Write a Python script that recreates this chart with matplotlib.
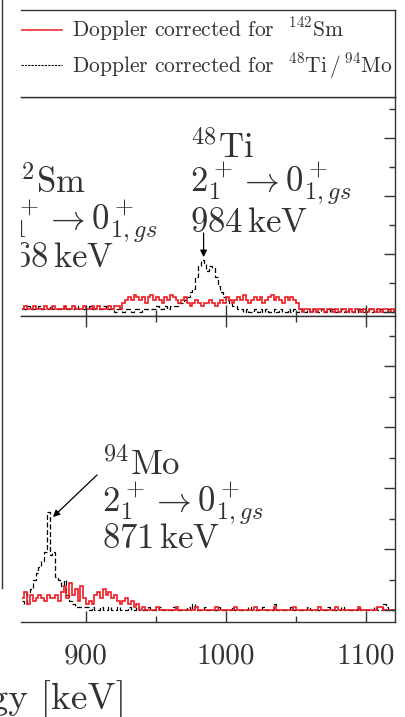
import numpy as np
import matplotlib
matplotlib.use('Agg')
import matplotlib.pyplot as plt
from matplotlib.ticker import MultipleLocator, NullFormatter
from matplotlib.lines import Line2D

plt.rcParams['font.family'] = 'cmr10'
plt.rcParams['mathtext.fontset'] = 'cm'
plt.rcParams['axes.unicode_minus'] = False

# 2 keV bins, 854 - 1122 keV
edges = np.arange(854, 1123, 2)

# upper panel (48Ti gate)
top_red = ([1, 2, 1, 1, 2, 1, 1, 1, 2, 1, 1, 2, 1, 1, 1, 2, 1, 1, 2, 1,
            1, 1, 2, 1, 1, 2, 1, 2, 1, 1, 1, 2, 1, 2, 2, 1]
           + [3, 4, 5, 4, 6, 5, 4, 5, 3, 5, 6, 4, 5, 4, 3, 5, 4, 6, 5, 4, 3, 4, 5]
           + [3, 2, 3, 4, 3, 2, 3, 3, 4, 3, 2, 3, 4, 3]
           + [5, 4, 3, 4, 5, 4, 6, 4, 3, 4, 5, 4, 5, 3, 4, 5, 6, 4, 5, 4,
              3, 5, 4, 5, 4, 3]
           + [1, 0, 1, 1, 0, 1, 0, 1, 1, 0, 1, 1, 0, 1, 0, 1, 1, 0, 1, 0,
              1, 1, 0, 1, 0, 1, 1, 0, 1, 0, 1, 1, 0, 1, 0])
top_black = ([1, 1, 2, 1, 1, 1, 2, 1, 1, 1, 2, 1, 1, 1, 1, 2, 1, 1, 1, 2,
              1, 1, 1, 1, 2, 1, 1, 1, 1, 2, 1, 1, 1, 0, 1, 1, 0, 1, 1, 0,
              1, 1, 0, 1, 1, 1]
             + [1, 1, 2, 1, 1, 2, 1, 2, 2, 2, 3]
             + [3, 4, 5, 7, 8, 12, 16, 18, 17, 14, 16, 15, 12, 9, 7, 5, 4, 3, 2, 2, 1]
             + [1, 0, 1, 0, 0, 1, 0, 1, 0, 1, 0, 0, 1, 0, 1, 0, 0, 1, 0, 1,
                0, 1, 0, 0, 1, 0, 1, 0, 0, 1, 0, 1, 0, 1, 0, 0, 1, 0, 1, 0,
                0, 1, 0, 1, 0, 0, 1, 0, 1, 0, 1, 0, 0, 1, 0, 1])

# lower panel (94Mo gate)
bot_black = ([3, 2, 6, 7, 10, 12, 14, 16, 19, 32, 18, 19, 11, 10, 8, 10, 5, 3, 2, 1,
              1, 1, 1]
             + [1, 0, 1, 0, 0, 1, 0, 0, 1, 0, 0, 1, 0, 0, 0, 1, 0, 0, 1, 0,
                0, 0, 1, 0, 0, 0, 1, 0, 0, 0, 0, 1, 0, 0, 0, 0, 1, 0, 2, 0,
                0, 0, 1, 0, 0, 0, 0, 1, 0, 0, 0, 0, 1, 0, 0, 0, 0, 0, 1, 0,
                0, 0, 0, 1, 0, 0, 0, 2, 0, 0, 0, 0, 0, 1, 0, 0, 0, 0, 0, 1,
                0, 0, 0, 0, 0, 0, 1, 0, 0, 0, 0, 1, 0, 0, 0, 0, 0, 1, 0, 0,
                0, 0, 0, 1, 0, 0, 2, 1, 0, 0, 0])
bot_red = ([4, 6, 2, 5, 3, 4, 5, 4, 3, 5, 4, 4, 5, 3, 6, 8, 4, 9, 5, 7, 3, 8, 4]
           + [2, 3, 2, 5, 6, 4, 7, 5, 6, 4, 5, 3, 2, 3, 4, 2, 3, 1, 2]
           + [0, 1, 0, 0, 0, 0, 1, 0, 0, 0, 0, 0, 0, 1, 0, 0, 0, 0, 0, 0,
              1, 0, 0, 0, 0, 0, 0, 1, 0, 0, 0, 0, 0, 0, 1, 0, 0, 0, 0, 0,
              0, 1, 0, 0, 0, 0, 0, 0, 1, 0, 0, 0, 0, 0, 0, 1, 0, 0, 0, 0,
              0, 0, 0, 0, 1, 0, 0, 0, 0, 0, 1, 0, 0, 0, 0, 0, 0, 0, 1, 0,
              0, 0, 0, 0, 0, 1, 1, 0, 0, 0, 0, 0])

RED = '#ee1c25'
INK = '#333333'
W, H = 405, 717

fig = plt.figure(figsize=(W / 100, H / 100), dpi=100)


def box(x0, y0, x1, y1):
    return [x0 / W, 1 - y1 / H, (x1 - x0) / W, (y1 - y0) / H]


ax_top = fig.add_axes(box(21, 97, 395, 316))
ax_bot = fig.add_axes(box(21, 316, 395, 622))
ax_leg = fig.add_axes(box(21, 10, 395, 97))

for ax in (ax_top, ax_bot):
    ax.set_xlim(853.6, 1120.7)
    ax.spines['left'].set_visible(False)
    for s in ('top', 'right', 'bottom'):
        ax.spines[s].set_color(INK)
        ax.spines[s].set_linewidth(1.0)
    ax.xaxis.set_major_locator(MultipleLocator(100))
    ax.xaxis.set_minor_locator(MultipleLocator(50))
    ax.yaxis.set_major_locator(MultipleLocator(20))
    ax.yaxis.set_minor_locator(MultipleLocator(10))
    ax.yaxis.set_major_formatter(NullFormatter())
    ax.tick_params(which='both', direction='in', color=INK, width=1,
                   left=False, right=True, labelleft=False, labelright=False)
    ax.tick_params(which='major', length=8)
    ax.tick_params(which='minor', length=4.3)

ax_top.set_ylim(-1.4, 74.1)
ax_bot.set_ylim(-3.9, 96.4)
ax_top.tick_params(which='both', top=False, bottom=True, labelbottom=False)
ax_bot.tick_params(which='both', top=True, bottom=True)
ax_bot.tick_params(axis='x', labelsize=21, labelcolor=INK, pad=15)

ax_top.stairs(top_black, edges, baseline=None, color='black', lw=0.9, ls=(0, (4, 2)))
ax_top.stairs(top_red, edges, baseline=None, color=RED, lw=1.2)
ax_bot.stairs(bot_black, edges, baseline=None, color='black', lw=0.9, ls=(0, (4, 2)))
ax_bot.stairs(bot_red, edges, baseline=None, color=RED, lw=1.2)

# peak labels
fs = 25
for x, y, s, ax in [
    (974.3, 53.1, r'$^{48}\mathrm{Ti}$', ax_top),
    (974.3, 41.4, r'$2_1^+ \rightarrow 0_{1,gs}^+$', ax_top),
    (974.3, 27.6, r'$984\,\mathrm{keV}$', ax_top),
    (836.0, 41.0, r'$^{142}\mathrm{Sm}$', ax_top),
    (836.0, 28.3, r'$2_1^+ \rightarrow 0_{1,gs}^+$', ax_top),
    (836.0, 15.5, r'$768\,\mathrm{keV}$', ax_top),
    (911.4, 44.3, r'$^{94}\mathrm{Mo}$', ax_bot),
    (911.4, 32.1, r'$2_1^+ \rightarrow 0_{1,gs}^+$', ax_bot),
    (911.4, 20.3, r'$871\,\mathrm{keV}$', ax_bot),
]:
    ax.text(x, y, s, fontsize=fs, color=INK, va='baseline', ha='left', clip_on=True)

arrow = dict(arrowstyle='-|>', color='black', lw=0.9, mutation_scale=10,
             shrinkA=0, shrinkB=0)
ax_top.annotate('', xy=(984, 18.9), xytext=(984, 27.2), arrowprops=arrow)
ax_bot.annotate('', xy=(876.4, 30.5), xytext=(907.9, 44.3), arrowprops=arrow)

# legend box
ax_leg.set_xlim(0, 1)
ax_leg.set_ylim(0, 1)
ax_leg.set_xticks([])
ax_leg.set_yticks([])
ax_leg.spines['left'].set_visible(False)
for s in ('top', 'right', 'bottom'):
    ax_leg.spines[s].set_color(INK)
    ax_leg.spines[s].set_linewidth(1.0)
ax_leg.plot([0, 0.11], [0.77, 0.77], color=RED, lw=1.1)
ax_leg.plot([0, 0.11], [0.368, 0.368], color='black', lw=0.8, ls=(0, (2, 1)))
ax_leg.text(0.136, 0.701, r'Doppler corrected for  $^{142}$Sm', fontsize=15.5,
            color=INK, va='baseline')
ax_leg.text(0.136, 0.276, r'Doppler corrected for  $^{48}$Ti$\,/\,^{94}$Mo',
            fontsize=15.5, color=INK, va='baseline')

# edge of the neighbouring panel and the cut-off axis title
fig.add_artist(Line2D([2 / W, 2 / W], [1, 1 - 588 / H], transform=fig.transFigure,
                      color=INK, lw=1.0))
fig.text(126 / W, 7 / H, 'Energy [keV]', fontsize=27, color=INK,
         ha='right', va='baseline')

fig.savefig('out.png', dpi=100)
